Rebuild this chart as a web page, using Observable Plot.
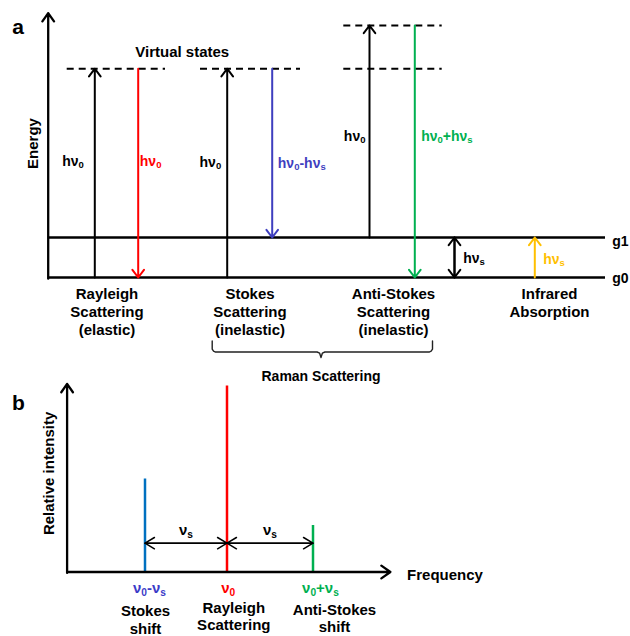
<!DOCTYPE html>
<html><head><meta charset="utf-8">
<script src="https://cdn.jsdelivr.net/npm/d3@7"></script>
<script src="https://cdn.jsdelivr.net/npm/@observablehq/plot@0.6"></script>
<style>
html,body{margin:0;padding:0;background:#fff;overflow:hidden;}
#chart svg{display:block;}
</style></head><body><div id="chart"></div>
<script>
// ================= DATA =================
// Panel a: energy levels (energy in units of hν_s; g0 = 0)
const levelNames = ["g0", "g1"];
const levelEnergy = [0, 1];
const virtualEnergy = [5.22, 5.22, 5.22, 6.3];           // Rayleigh, Stokes, Anti-Stokes (low), Anti-Stokes (high)
const energyAxisTop = 6.61;
const processNames = ["Rayleigh\nScattering\n(elastic)", "Stokes\nScattering\n(inelastic)",
                      "Anti-Stokes\nScattering\n(inelastic)", "Infrared\nAbsorption"];
const transitionFrom = [0, 5.22, 0, 5.22, 1, 6.3, 0, 0, 1];
const transitionTo   = [5.22, 0, 5.22, 1, 6.3, 0, 1, 1, 0];
const photonLabels = ["hν_0", "hν_0", "hν_0", "hν_0-hν_s", "hν_0", "hν_0+hν_s", "hν_s", "hν_s"];
const ramanLabel = "Raman Scattering";
const virtualLabel = "Virtual states";

// Panel b: spectrum (frequency as (ν-ν0)/νs, relative intensity)
const peakNames = ["Stokes\nshift", "Rayleigh\nScattering", "Anti-Stokes\nshift"];
const peakFreq = [-1, 0, 1];
const peakIntensity = [0.5, 1, 0.25];
const peakTicks = ["ν_0-ν_s", "ν_0", "ν_0+ν_s"];
const shiftLabels = ["ν_s", "ν_s"];
const shiftFrom = [-1, 0];
const shiftTo = [0, 1];
const shiftLevel = 0.155;

// ================= LAYOUT / STYLE =================
const FONT = "'Liberation Sans', Arial, Helvetica, sans-serif";
const C = {black: "#000", red: "#ff0000", indigo: "#3f3fbf", green: "#00b050", amber: "#ffc000", blue: "#0070c0", tickBlue: "#3b3bc8"};

// panel a (diagram x units)
const axisAX = 47.7, levelEndX = 605;
const processX = [106.5, 249.5, 393, 549];
const virtualX1 = [66.7, 200, 343.3, 343.3], virtualX2 = [165, 300, 441.7, 441.7];
const transitionX = [94.3, 137.7, 226.7, 271.7, 369, 414.3, 534.3, 454, 454];
const transitionColor = [C.black, C.red, C.black, C.indigo, C.black, C.green, C.amber, C.black, C.black];
const labelX = [83.3, 139.3, 220.7, 277.3, 365, 420.7, 542.7, 462.7];
const labelE = [2.8, 2.8, 2.775, 2.75, 3.425, 3.425, 0.35, 0.375];
const labelAnchor = ["end", "start", "end", "start", "end", "start", "start", "start"];
const labelColor = [C.black, C.red, C.black, C.indigo, C.black, C.green, C.amber, C.black];
const levelLabelE = [-0.125, 0.8];
const brace = {from: 211.7, to: 432, mid: 320.5, top: -1.5875, bar: -1.8625, tip: -2.0};

// panel b (frequency units)
const axisBX = -1.95, axisBEnd = 1.90, axisBTop = 1.011;
const peakColor = [C.blue, C.red, C.green];
const tickColor = [C.tickBlue, C.red, C.green];
const tickX = [-0.945, 0.015, 1.087];
const nameX = [-0.994, 0.079, 1.25];
const nameY = [-0.171, -0.152, -0.162];

// ================= TABLES =================
const transitions = transitionFrom.map((f, i) => ({x: transitionX[i], from: f, to: transitionTo[i], color: transitionColor[i]}));
const labels = photonLabels.map((t, i) => ({text: t, x: labelX[i], E: labelE[i], anchor: labelAnchor[i], color: labelColor[i]}));
const virtuals = virtualEnergy.map((E, i) => ({E, x1: virtualX1[i], x2: virtualX2[i]}));
const levels = levelNames.map((n, i) => ({name: n, E: levelEnergy[i], labelE: levelLabelE[i]}));
const processes = processNames.map((n, i) => ({name: n, x: processX[i]}));
function bracePath(b) {
  const r = 0.075, rx = 3;
  return [
    [b.from, b.top], [b.from, b.bar + r * 0.95], [b.from + rx * 0.45, b.bar + r * 0.3], [b.from + rx, b.bar],
    [b.mid - rx * 1.3, b.bar], [b.mid - rx * 0.45, b.bar - r * 0.4], [b.mid, b.tip],
    [b.mid + rx * 0.45, b.bar - r * 0.4], [b.mid + rx * 1.3, b.bar],
    [b.to - rx, b.bar], [b.to - rx * 0.45, b.bar + r * 0.3], [b.to, b.bar + r * 0.95], [b.to, b.top]
  ].map(([x, E]) => ({x, E}));
}
const peaks = peakNames.map((n, i) => ({name: n, f: peakFreq[i], I: peakIntensity[i], color: peakColor[i],
  tick: peakTicks[i], tickColor: tickColor[i], tickX: tickX[i], nameX: nameX[i], nameY: nameY[i]}));
const shifts = [];
shiftFrom.forEach((a, i) => { shifts.push({x1: a, x2: shiftTo[i]}); shifts.push({x1: shiftTo[i], x2: a}); });
const shiftText = shiftLabels.map((t, i) => ({text: t, x: (shiftFrom[i] + shiftTo[i]) / 2}));

const svgStyle = {fontFamily: FONT, fontWeight: "bold", overflow: "visible", background: "transparent"};

// ================= PANEL A =================
const A = Plot.plot({
  width: 630, height: 385, margin: 0,
  x: {type: "linear", domain: [0, 630], range: [0, 630], axis: null},
  y: {type: "linear", domain: [0, 1], range: [277, 237], axis: null},
  color: {type: "identity"},
  style: svgStyle,
  marks: [
    Plot.ruleY(levels, {y: "E", x1: axisAX, x2: levelEndX, strokeWidth: 2.6, stroke: C.black}),
    Plot.arrow([0], {x1: axisAX, x2: axisAX, y1: -0.03, y2: energyAxisTop, strokeWidth: 2.3, headAngle: 70, headLength: 6.6, stroke: C.black}),
    Plot.ruleY(virtuals, {y: "E", x1: "x1", x2: "x2", strokeWidth: 2, strokeDasharray: "7,5", stroke: C.black}),
    Plot.arrow(transitions, {x1: "x", x2: "x", y1: "from", y2: "to", stroke: "color", strokeWidth: 2, headAngle: 74, headLength: 7.2}),
    Plot.text(labels.filter(d => d.anchor === "end"), {x: "x", y: "E", text: "text", fill: "color", textAnchor: "end", lineAnchor: "bottom", fontSize: 14}),
    Plot.text(labels.filter(d => d.anchor === "start"), {x: "x", y: "E", text: "text", fill: "color", textAnchor: "start", lineAnchor: "bottom", fontSize: 14}),
    Plot.text(levels, {x: levelEndX, y: "labelE", text: "name", dx: 6.7, textAnchor: "start", lineAnchor: "bottom", fontSize: 14}),
    Plot.text([virtualLabel], {x: 181.7, y: 5.507, text: d => d, textAnchor: "middle", lineAnchor: "bottom", fontSize: 15}),
    Plot.text(["Energy"], {x: 37.4, y: 3.35, text: d => d, rotate: -90, textAnchor: "middle", lineAnchor: "bottom", fontSize: 15}),
    Plot.text(processes, {x: "x", y: 0, dy: 9.2, text: "name", textAnchor: "middle", lineAnchor: "top", lineHeight: 1.2, fontSize: 15}),
    Plot.line(bracePath(brace), {x: "x", y: "E", stroke: "#222", strokeWidth: 1.4}),
    Plot.text([ramanLabel], {x: brace.mid, y: -2.575, text: d => d, textAnchor: "middle", lineAnchor: "bottom", fontSize: 14}),
    Plot.text(["a"], {frameAnchor: "top-left", dx: 17.5, dy: 33.3, text: d => d, textAnchor: "middle", lineAnchor: "bottom", fontSize: 21})
  ]
});

// ================= PANEL B =================
const B = Plot.plot({
  width: 630, height: 251, margin: 0,
  x: {type: "linear", domain: [-1, 0, 1], range: [144.5, 226.5, 312.5], axis: null},
  y: {type: "linear", domain: [0, 1], range: [186.5, 0.5], axis: null},
  color: {type: "identity"},
  style: svgStyle,
  marks: [
    Plot.ruleX(peaks, {x: "f", y1: 0, y2: "I", stroke: "color", strokeWidth: 2.5}),
    Plot.arrow([0], {x1: axisBX, x2: axisBEnd, y1: 0, y2: 0, strokeWidth: 2.3, headAngle: 70, headLength: 7.2, stroke: C.black}),
    Plot.arrow([0], {x1: axisBX, x2: axisBX, y1: -0.005, y2: axisBTop, strokeWidth: 2.3, headAngle: 70, headLength: 6.6, stroke: C.black}),
    Plot.arrow(shifts, {x1: "x1", x2: "x2", y1: shiftLevel, y2: shiftLevel, stroke: C.black, strokeWidth: 1.5, headAngle: 62, headLength: 11}),
    Plot.text(shiftText, {x: "x", y: shiftLevel, dy: -7.7, text: "text", textAnchor: "middle", lineAnchor: "bottom", fontSize: 15}),
    Plot.text(peaks, {x: "tickX", y: 0, dy: 20.5, text: "tick", fill: "tickColor", textAnchor: "middle", lineAnchor: "bottom", fontSize: 15}),
    Plot.text(peaks, {x: "nameX", y: "nameY", text: "name", textAnchor: "middle", lineAnchor: "top", lineHeight: 1.17, fontSize: 15}),
    Plot.text(["Frequency"], {x: axisBEnd, y: 0, dx: 16.7, dy: 7.5, text: d => d, textAnchor: "start", lineAnchor: "bottom", fontSize: 15}),
    Plot.text(["Relative intensity"], {x: axisBX, y: 0.53, dx: -13.5, text: d => d, rotate: -90, textAnchor: "middle", lineAnchor: "bottom", fontSize: 15}),
    Plot.text(["b"], {frameAnchor: "top-left", dx: 18, dy: 24, text: d => d, textAnchor: "middle", lineAnchor: "bottom", fontSize: 21})
  ]
});

const root = document.getElementById("chart");
root.appendChild(A);
root.appendChild(B);

// real subscripts: "_x" -> subscript tspan
function subscripts(svg) {
  svg.querySelectorAll("text").forEach(t => {
    if (t.querySelector("tspan")) return;
    const s = t.textContent;
    if (!s.includes("_")) return;
    const fs = parseFloat(getComputedStyle(t).fontSize) || 14;
    const drop = 0.2 * fs;
    t.textContent = "";
    let down = false;
    for (const part of s.split(/(_.)/)) {
      if (!part) continue;
      const ts = document.createElementNS("http://www.w3.org/2000/svg", "tspan");
      if (part[0] === "_") {
        ts.textContent = part.slice(1);
        ts.setAttribute("font-size", (0.68 * fs).toFixed(2));
        if (!down) ts.setAttribute("dy", drop.toFixed(2));
        down = true;
      } else {
        ts.textContent = part;
        if (down) ts.setAttribute("dy", (-drop).toFixed(2));
        down = false;
      }
      t.appendChild(ts);
    }
  });
}
subscripts(A);
subscripts(B);
</script></body></html>
